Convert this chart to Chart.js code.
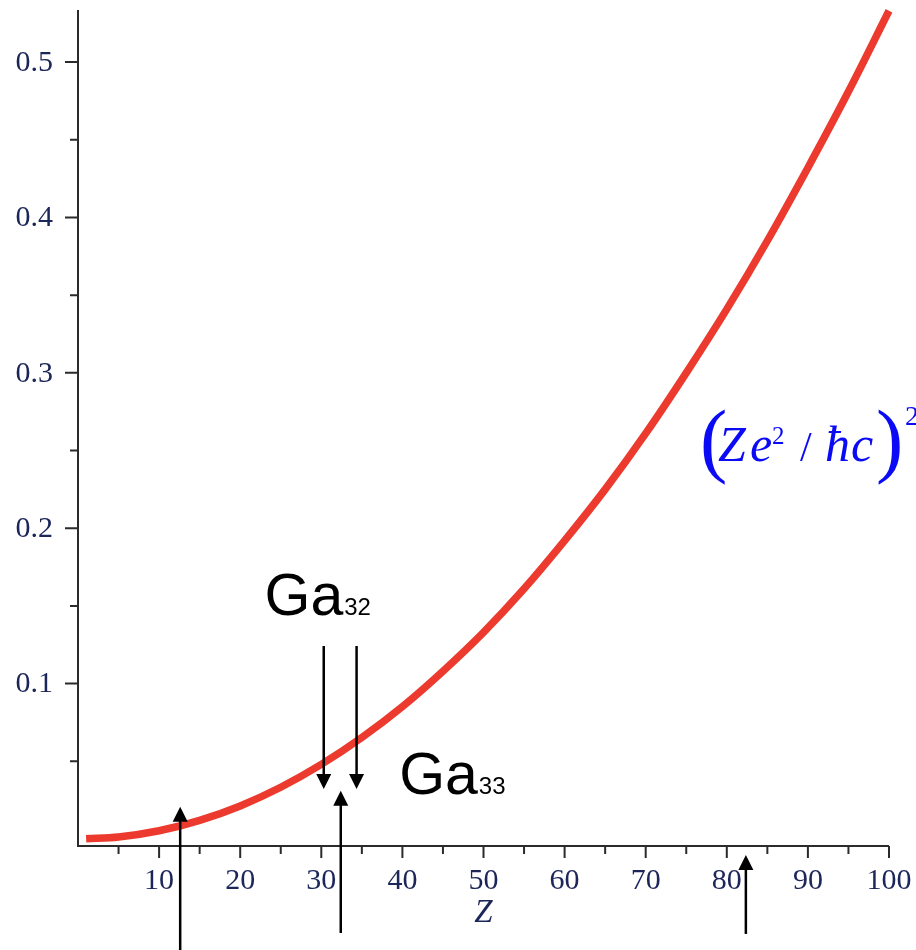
<!DOCTYPE html>
<html lang="en">
<head>
  <meta charset="UTF-8" />
  <title>(Ze^2/hc)^2 vs Z</title>
  <script src="https://cdn.jsdelivr.net/npm/chart.js@4"></script>
  <style>
    body { margin: 0; background: #fff; }
    #wrap { width: 916px; height: 950px; position: relative; }
  </style>
</head>
<body>
  <div id="wrap"><canvas id="alphaChart"></canvas></div>

  <script>
    // values
    const zValues = [1, 5, 10, 15, 20, 25, 30, 35, 40, 45, 50, 55, 60, 65, 70, 75, 80, 85, 90, 95, 100];
    const alphaSq = [0.0001, 0.0013, 0.0053, 0.012, 0.0213, 0.0333, 0.048, 0.0653, 0.0852, 0.108, 0.133,
                     0.161, 0.192, 0.225, 0.261, 0.300, 0.341, 0.385, 0.432, 0.481, 0.533];

    // axis ticks
    const xMajor = [10, 20, 30, 40, 50, 60, 70, 80, 90, 100];
    const xMinor = [5, 15, 25, 35, 45, 55, 65, 75, 85, 95];
    const yMajor = ["0.1", "0.2", "0.3", "0.4", "0.5"];
    const yMinor = [0.05, 0.15, 0.25, 0.35, 0.45];

    // arrows (data coords): z, start y, tip y
    const arrows = [
      { z: 12.6, from: -0.075, to: 0.0208 },
      { z: 32.4, from: -0.0605, to: 0.0311 },
      { z: 30.3, from: 0.1242, to: 0.0322 },
      { z: 34.35, from: 0.1242, to: 0.0322 },
      { z: 82.35, from: -0.0611, to: -0.0103 }
    ];
    const labels = [
      { text: "Ga", sub: "32", z: 23.0, y: 0.1442 },
      { text: "Ga", sub: "33", z: 39.6, y: 0.0290 }
    ];

    const axisColor = "#2b2b2b";
    const tickFont = "30px 'Liberation Serif', serif";
    const tickColor = "#1c2658";

    function arrow(ctx, x, y0, y1) {
      const dir = y1 < y0 ? 1 : -1;
      ctx.beginPath();
      ctx.moveTo(x, y0);
      ctx.lineTo(x, y1 + dir * 12);
      ctx.stroke();
      ctx.beginPath();
      ctx.moveTo(x, y1);
      ctx.lineTo(x - 7.5, y1 + dir * 15);
      ctx.lineTo(x + 7.5, y1 + dir * 15);
      ctx.closePath();
      ctx.fill();
    }

    const axesPlugin = {
      id: "mapleAxes",
      beforeDatasetsDraw(chart) {
        const ctx = chart.ctx;
        const xs = chart.scales.x, ys = chart.scales.y;
        const x0 = xs.getPixelForValue(0);
        const yb = ys.getPixelForValue(ys.min);
        ctx.save();
        ctx.strokeStyle = axisColor;
        ctx.lineWidth = 2;
        ctx.beginPath();
        ctx.moveTo(x0, ys.getPixelForValue(ys.max));
        ctx.lineTo(x0, yb);
        ctx.lineTo(xs.getPixelForValue(100), yb);
        ctx.stroke();

        ctx.beginPath();
        yMajor.forEach(v => { const p = ys.getPixelForValue(+v); ctx.moveTo(x0 - 13, p); ctx.lineTo(x0, p); });
        yMinor.forEach(v => { const p = ys.getPixelForValue(v); ctx.moveTo(x0 - 8, p); ctx.lineTo(x0, p); });
        xMajor.forEach(v => { const p = xs.getPixelForValue(v); ctx.moveTo(p, yb); ctx.lineTo(p, yb + 12); });
        xMinor.forEach(v => { const p = xs.getPixelForValue(v); ctx.moveTo(p, yb); ctx.lineTo(p, yb + 8); });
        ctx.stroke();

        ctx.fillStyle = tickColor;
        ctx.font = tickFont;
        ctx.textAlign = "right";
        ctx.textBaseline = "middle";
        yMajor.forEach(v => ctx.fillText(v, x0 - 25, ys.getPixelForValue(+v) + 1));
        ctx.textAlign = "center";
        xMajor.forEach(v => ctx.fillText(String(v), xs.getPixelForValue(v), yb + 35));

        ctx.font = "italic 33px 'Liberation Serif', serif";
        ctx.textBaseline = "alphabetic";
        ctx.fillText("Z", xs.getPixelForValue(50), yb + 76);
        ctx.restore();
      },
      afterDraw(chart) {
        const ctx = chart.ctx;
        const xs = chart.scales.x, ys = chart.scales.y;
        ctx.save();
        ctx.strokeStyle = "#000";
        ctx.fillStyle = "#000";
        ctx.lineWidth = 2.5;
        arrows.forEach(a => arrow(ctx, xs.getPixelForValue(a.z), ys.getPixelForValue(a.from), ys.getPixelForValue(a.to)));

        ctx.textAlign = "left";
        ctx.textBaseline = "alphabetic";
        labels.forEach(l => {
          const px = xs.getPixelForValue(l.z), py = ys.getPixelForValue(l.y);
          ctx.font = "59px 'Liberation Sans', Arial, sans-serif";
          ctx.fillText(l.text, px, py);
          const w = ctx.measureText(l.text).width;
          ctx.font = "24px 'Liberation Sans', Arial, sans-serif";
          ctx.fillText(l.sub, px + w + 1, py);
        });

        // formula (Ze^2 / ħc)^2
        const fx = xs.getPixelForValue(76.7), fy = ys.getPixelForValue(0.2433);
        ctx.fillStyle = "#0a0af5";
        const serif = "'Liberation Serif', serif";
        ctx.font = "82px " + serif;
        ctx.fillText("(", fx, fy + 6);
        ctx.fillText(")", fx + 176, fy + 6);
        ctx.font = "italic 50px " + serif;
        ctx.fillText("Z", fx + 18, fy);
        ctx.fillText("e", fx + 50, fy);
        ctx.fillText("ħ", fx + 125, fy);
        ctx.fillText("c", fx + 151, fy);
        ctx.font = "25px " + serif;
        ctx.fillText("2", fx + 72, fy - 17);
        ctx.font = "42px " + serif;
        ctx.fillText("/", fx + 100, fy);
        ctx.font = "28px " + serif;
        ctx.fillText("2", fx + 205, fy - 36);
        ctx.restore();
      }
    };

    new Chart(document.getElementById("alphaChart"), {
      type: "line",
      data: {
        datasets: [{
          data: zValues.map((z, i) => ({ x: z, y: alphaSq[i] })),
          borderColor: "#ec3b2e",
          borderWidth: 7.5,
          pointRadius: 0,
          cubicInterpolationMode: "monotone",
          fill: false,
          clip: false
        }]
      },
      options: {
        responsive: true,
        maintainAspectRatio: false,
        animation: false,
        layout: { padding: { left: 78, right: 27, top: 10, bottom: 104 } },
        plugins: { legend: { display: false }, tooltip: { enabled: false } },
        scales: {
          x: { type: "linear", min: 0, max: 100, display: false },
          y: { type: "linear", min: -0.0045, max: 0.5335, display: false }
        }
      },
      plugins: [axesPlugin]
    });
  </script>
</body>
</html>
